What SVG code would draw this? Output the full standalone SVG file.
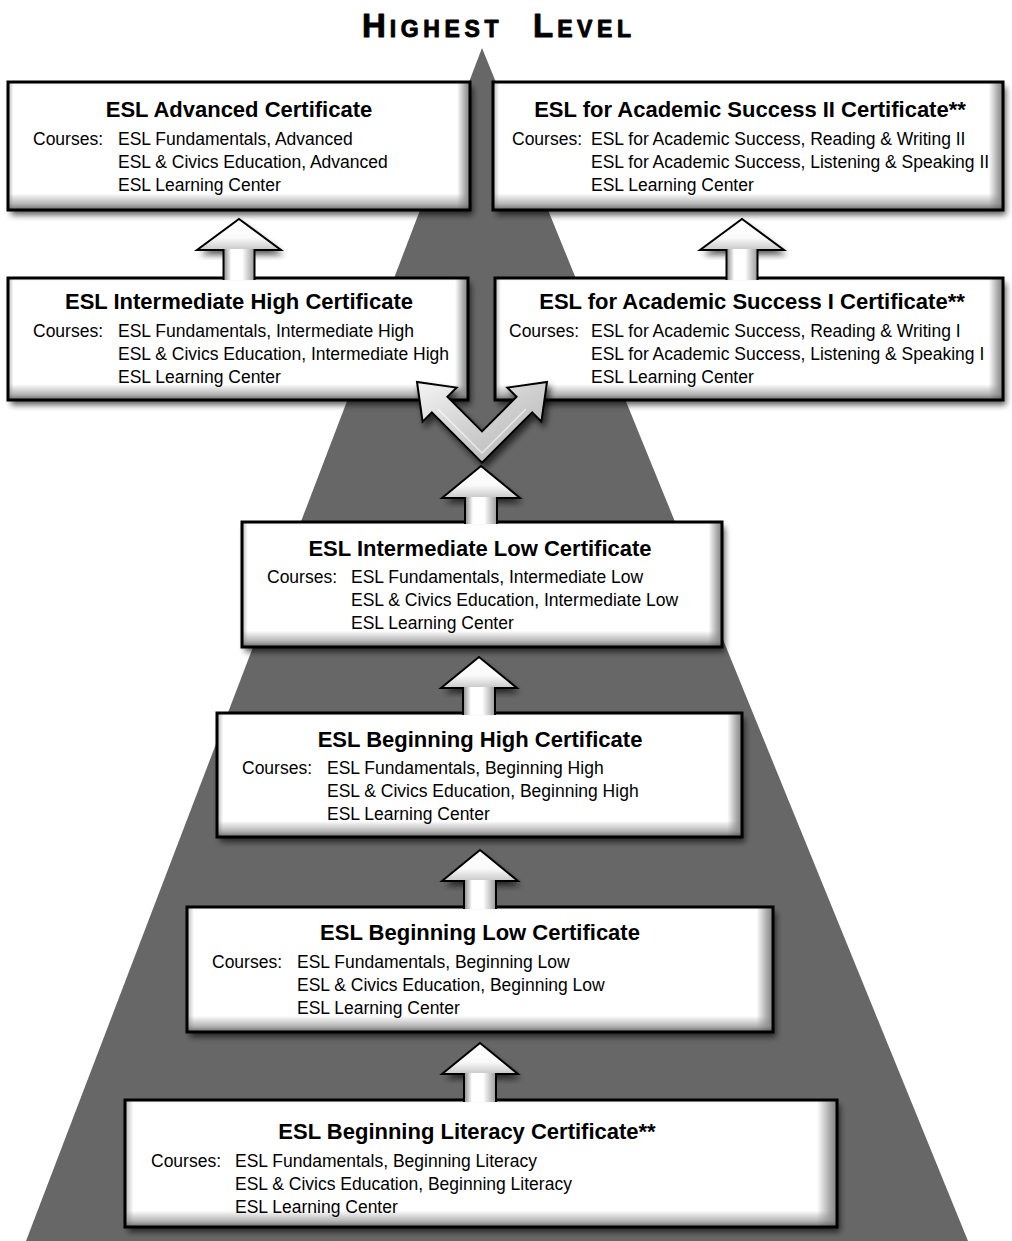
<svg xmlns="http://www.w3.org/2000/svg" width="1012" height="1241" viewBox="0 0 1012 1241">
<defs>
<style>
.frame{fill:none;stroke:#000;stroke-width:3}
.base{fill:#fff}
.bh{fill:url(#bevH)}
.bv{fill:url(#bevV)}
.t{font-family:"Liberation Sans",Arial,sans-serif;font-weight:bold;font-size:22px;text-anchor:middle;fill:#000}
.c{font-family:"Liberation Sans",Arial,sans-serif;font-size:17.5px;fill:#000}
.hd{fill:url(#headG)}
.st{fill:url(#stemG)}
.ao{fill:none;stroke:#000;stroke-width:2;stroke-linejoin:miter}
.ttl{font-family:"Liberation Sans",Arial,sans-serif;font-weight:bold;fill:#000;stroke:#000;stroke-width:0.9;stroke-linejoin:round}
</style>
<filter id="sh" x="-10%" y="-10%" width="125%" height="140%">
<feGaussianBlur in="SourceAlpha" stdDeviation="3"/>
<feOffset dx="3" dy="5" result="o"/>
<feComponentTransfer><feFuncA type="linear" slope="0.65"/></feComponentTransfer>
<feMerge><feMergeNode/><feMergeNode in="SourceGraphic"/></feMerge>
</filter>
<linearGradient id="bevH" x1="0" y1="0" x2="1" y2="0">
<stop offset="0" stop-color="#b5b5b5"/>
<stop offset="0.012" stop-color="#fff"/>
<stop offset="0.972" stop-color="#fff"/>
<stop offset="0.99" stop-color="#a8a8a8"/>
<stop offset="1" stop-color="#808080"/>
</linearGradient>
<linearGradient id="bevV" x1="0" y1="0" x2="0" y2="1">
<stop offset="0" stop-color="#888" stop-opacity="0.15"/>
<stop offset="0.03" stop-color="#888" stop-opacity="0"/>
<stop offset="0.87" stop-color="#888" stop-opacity="0"/>
<stop offset="0.95" stop-color="#888" stop-opacity="0.6"/>
<stop offset="1" stop-color="#555" stop-opacity="0.9"/>
</linearGradient>
<linearGradient id="headG" x1="0" y1="0" x2="0" y2="1">
<stop offset="0" stop-color="#fff"/>
<stop offset="0.6" stop-color="#fafafa"/>
<stop offset="1" stop-color="#c8c8c8"/>
</linearGradient>
<linearGradient id="stemG" x1="0" y1="0" x2="1" y2="0">
<stop offset="0" stop-color="#8a8a8a"/>
<stop offset="0.25" stop-color="#fff"/>
<stop offset="0.6" stop-color="#fff"/>
<stop offset="1" stop-color="#9a9a9a"/>
</linearGradient>
<linearGradient id="vG" x1="0" y1="0" x2="1" y2="1">
<stop offset="0" stop-color="#f4f4f4"/>
<stop offset="0.5" stop-color="#d0d0d0"/>
<stop offset="1" stop-color="#b0b0b0"/>
</linearGradient>
</defs>

<rect x="0" y="0" width="1012" height="1241" fill="#fff"/>
<polygon id="pyramid" points="482,48 968,1241 26,1241" fill="#676767"/>

<text id="title" class="ttl" y="37"><tspan x="362" font-size="33" letter-spacing="4">H</tspan><tspan font-size="23" letter-spacing="4.6">IGHEST</tspan><tspan x="533" font-size="33" letter-spacing="4">L</tspan><tspan font-size="23" letter-spacing="4.6">EVEL</tspan></text>

<g id="nodes">
<g id="advanced">
<rect class="base" filter="url(#sh)" x="8" y="82" width="462" height="128"/>
<rect class="bh" x="8" y="82" width="462" height="128"/>
<rect class="bv" x="8" y="82" width="462" height="128"/>
<rect class="frame" x="8" y="82" width="462" height="128"/>
<text class="t" x="239" y="117">ESL Advanced Certificate</text>
<text class="c" x="33" y="145">Courses:</text>
<text class="c" x="118" y="145">ESL Fundamentals, Advanced</text>
<text class="c" x="118" y="168">ESL &amp; Civics Education, Advanced</text>
<text class="c" x="118" y="191">ESL Learning Center</text>
</g>
<g id="academic2">
<rect class="base" filter="url(#sh)" x="493" y="82" width="510" height="128"/>
<rect class="bh" x="493" y="82" width="510" height="128"/>
<rect class="bv" x="493" y="82" width="510" height="128"/>
<rect class="frame" x="493" y="82" width="510" height="128"/>
<text class="t" x="750" y="117">ESL for Academic Success II Certificate**</text>
<text class="c" x="512" y="145">Courses:</text>
<text class="c" x="591" y="145">ESL for Academic Success, Reading &amp; Writing II</text>
<text class="c" x="591" y="168">ESL for Academic Success, Listening &amp; Speaking II</text>
<text class="c" x="591" y="191">ESL Learning Center</text>
</g>
<g id="intermediate-high">
<rect class="base" filter="url(#sh)" x="8" y="278" width="460" height="122"/>
<rect class="bh" x="8" y="278" width="460" height="122"/>
<rect class="bv" x="8" y="278" width="460" height="122"/>
<rect class="frame" x="8" y="278" width="460" height="122"/>
<text class="t" x="239" y="309">ESL Intermediate High Certificate</text>
<text class="c" x="33" y="337">Courses:</text>
<text class="c" x="118" y="337">ESL Fundamentals, Intermediate High</text>
<text class="c" x="118" y="360">ESL &amp; Civics Education, Intermediate High</text>
<text class="c" x="118" y="383">ESL Learning Center</text>
</g>
<g id="academic1">
<rect class="base" filter="url(#sh)" x="495" y="278" width="508" height="122"/>
<rect class="bh" x="495" y="278" width="508" height="122"/>
<rect class="bv" x="495" y="278" width="508" height="122"/>
<rect class="frame" x="495" y="278" width="508" height="122"/>
<text class="t" x="752" y="309">ESL for Academic Success I Certificate**</text>
<text class="c" x="509" y="337">Courses:</text>
<text class="c" x="591" y="337">ESL for Academic Success, Reading &amp; Writing I</text>
<text class="c" x="591" y="360">ESL for Academic Success, Listening &amp; Speaking I</text>
<text class="c" x="591" y="383">ESL Learning Center</text>
</g>
<g id="intermediate-low">
<rect class="base" filter="url(#sh)" x="242" y="522" width="480" height="125"/>
<rect class="bh" x="242" y="522" width="480" height="125"/>
<rect class="bv" x="242" y="522" width="480" height="125"/>
<rect class="frame" x="242" y="522" width="480" height="125"/>
<text class="t" x="480" y="556">ESL Intermediate Low Certificate</text>
<text class="c" x="267" y="583">Courses:</text>
<text class="c" x="351" y="583">ESL Fundamentals, Intermediate Low</text>
<text class="c" x="351" y="606">ESL &amp; Civics Education, Intermediate Low</text>
<text class="c" x="351" y="629">ESL Learning Center</text>
</g>
<g id="beginning-high">
<rect class="base" filter="url(#sh)" x="217" y="713" width="525" height="124"/>
<rect class="bh" x="217" y="713" width="525" height="124"/>
<rect class="bv" x="217" y="713" width="525" height="124"/>
<rect class="frame" x="217" y="713" width="525" height="124"/>
<text class="t" x="480" y="747">ESL Beginning High Certificate</text>
<text class="c" x="242" y="774">Courses:</text>
<text class="c" x="327" y="774">ESL Fundamentals, Beginning High</text>
<text class="c" x="327" y="797">ESL &amp; Civics Education, Beginning High</text>
<text class="c" x="327" y="820">ESL Learning Center</text>
</g>
<g id="beginning-low">
<rect class="base" filter="url(#sh)" x="187" y="907" width="586" height="125"/>
<rect class="bh" x="187" y="907" width="586" height="125"/>
<rect class="bv" x="187" y="907" width="586" height="125"/>
<rect class="frame" x="187" y="907" width="586" height="125"/>
<text class="t" x="480" y="940">ESL Beginning Low Certificate</text>
<text class="c" x="212" y="968">Courses:</text>
<text class="c" x="297" y="968">ESL Fundamentals, Beginning Low</text>
<text class="c" x="297" y="991">ESL &amp; Civics Education, Beginning Low</text>
<text class="c" x="297" y="1014">ESL Learning Center</text>
</g>
<g id="beginning-literacy">
<rect class="base" filter="url(#sh)" x="125" y="1100" width="712" height="127"/>
<rect class="bh" x="125" y="1100" width="712" height="127"/>
<rect class="bv" x="125" y="1100" width="712" height="127"/>
<rect class="frame" x="125" y="1100" width="712" height="127"/>
<text class="t" x="467" y="1139">ESL Beginning Literacy Certificate**</text>
<text class="c" x="151" y="1167">Courses:</text>
<text class="c" x="235" y="1167">ESL Fundamentals, Beginning Literacy</text>
<text class="c" x="235" y="1190">ESL &amp; Civics Education, Beginning Literacy</text>
<text class="c" x="235" y="1213">ESL Learning Center</text>
</g>
</g>

<g id="connectors">
<g id="arrow-ih-adv">
<polygon class="hd" filter="url(#sh)" points="239,219 281,250 197,250"/>
<rect class="st" x="223.5" y="249" width="31" height="31"/>
<polyline class="ao" points="223.5,280 223.5,250 197,250 239,219 281,250 254.5,250 254.5,280"/>
</g>
<g id="arrow-as1-as2">
<polygon class="hd" filter="url(#sh)" points="742,219 784,250 700,250"/>
<rect class="st" x="726.5" y="249" width="31" height="31"/>
<polyline class="ao" points="726.5,280 726.5,250 700,250 742,219 784,250 757.5,250 757.5,280"/>
</g>
<g id="arrow-split">
<polygon filter="url(#sh)" fill="url(#vG)" stroke="#000" stroke-width="2" stroke-linejoin="miter" points="482,431.4 447.4,396.8 456.6,387.6 417,382 422.6,421.6 431.8,412.4 482,462.6 532.2,412.4 541.4,421.6 547,382 507.4,387.6 516.6,396.8"/>
<polyline fill="none" stroke="#fff" stroke-opacity="0.6" stroke-width="1.5" points="438,409 482,453 526,409"/>
</g>
<g id="arrow-il-split">
<polygon class="hd" filter="url(#sh)" points="481,466 520,498 442,498"/>
<rect class="st" x="465" y="497" width="32" height="27"/>
<polyline class="ao" points="465,524 465,498 442,498 481,466 520,498 497,498 497,524"/>
</g>
<g id="arrow-bh-il">
<polygon class="hd" filter="url(#sh)" points="479,657 517,688 441,688"/>
<rect class="st" x="463" y="687" width="32" height="28"/>
<polyline class="ao" points="463,715 463,688 441,688 479,657 517,688 495,688 495,715"/>
</g>
<g id="arrow-bl-bh">
<polygon class="hd" filter="url(#sh)" points="480,850 518,881 442,881"/>
<rect class="st" x="464" y="880" width="32" height="29"/>
<polyline class="ao" points="464,909 464,881 442,881 480,850 518,881 496,881 496,909"/>
</g>
<g id="arrow-lit-bl">
<polygon class="hd" filter="url(#sh)" points="480,1043 518,1074 442,1074"/>
<rect class="st" x="464" y="1073" width="32" height="29"/>
<polyline class="ao" points="464,1102 464,1074 442,1074 480,1043 518,1074 496,1074 496,1102"/>
</g>
</g>
</svg>
